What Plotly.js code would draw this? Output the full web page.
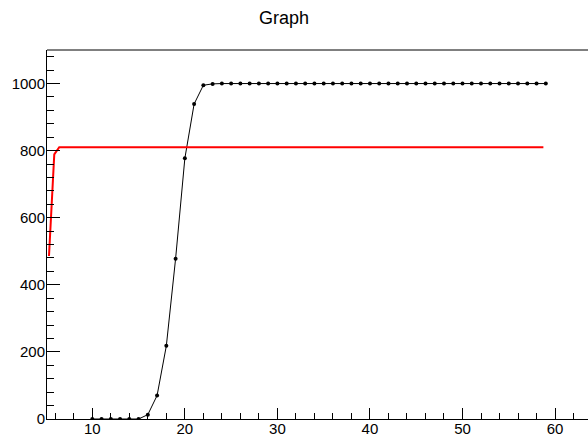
<!DOCTYPE html>
<html>
<head>
<meta charset="utf-8">
<script src="https://cdn.plot.ly/plotly-3.0.1.min.js"></script>
<style>html,body{margin:0;padding:0;background:#fff;}#chart{width:588px;height:436px;}</style>
</head>
<body>
<div id="chart"></div>
<script>
// Graph points (black)
var graphX = [10,11,12,13,14,15,16,17,18,19,20,21,22,23,24,25,26,27,28,29,30,31,32,33,34,35,36,37,38,39,40,41,42,43,44,45,46,47,48,49,50,51,52,53,54,55,56,57,58,59];
var graphY = [0,0,0,0,0,0,13,70,218,478,777,939,995,999,1000,1000,1000,1000,1000,1000,1000,1000,1000,1000,1000,1000,1000,1000,1000,1000,1000,1000,1000,1000,1000,1000,1000,1000,1000,1000,1000,1000,1000,1000,1000,1000,1000,1000,1000,1000];
// Fitted function (red)
var fitX = [5.32, 5.89, 6.43, 58.74];
var fitY = [486, 789, 810, 810];

var FONT = "Liberation Sans, Arial, Helvetica, sans-serif";

var traces = [
  {x: graphX, y: graphY, type: 'scatter', mode: 'lines+markers',
   line: {color: '#000000', width: 1}, marker: {color: '#000000', size: 4}, hoverinfo: 'skip'},
  {x: fitX, y: fitY, type: 'scatter', mode: 'lines',
   line: {color: '#ff0000', width: 2}, hoverinfo: 'skip'}
];

var layout = {
  width: 588, height: 436,
  margin: {l: 47, r: 0, t: 50, b: 17, pad: 0},
  paper_bgcolor: '#ffffff', plot_bgcolor: '#ffffff',
  showlegend: false,
  title: {text: 'Graph', font: {family: FONT, size: 18, color: '#000'}, x: 284/588, xanchor: 'center', y: 1 - 18/436, yanchor: 'middle'},
  xaxis: {
    range: [5.105, 63.56], showgrid: false, zeroline: false,
    showline: true, linecolor: '#000', linewidth: 1,
    ticks: 'inside', ticklen: 11, tickcolor: '#000', tickwidth: 1,
    tick0: 0, dtick: 10, ticklabelstandoff: -4,
    minor: {dtick: 2, tick0: 0, ticks: 'inside', ticklen: 6, tickcolor: '#000', tickwidth: 1},
    tickfont: {family: FONT, size: 15, color: '#000'}
  },
  yaxis: {
    range: [0, 1100], showgrid: false, zeroline: false,
    showline: true, linecolor: '#000', linewidth: 1,
    ticks: 'inside', ticklen: 13, tickcolor: '#000', tickwidth: 1,
    tick0: 0, dtick: 200, ticklabelstandoff: -2,
    minor: {dtick: 40, tick0: 0, ticks: 'inside', ticklen: 7, tickcolor: '#000', tickwidth: 1},
    tickfont: {family: FONT, size: 15, color: '#000'}
  },
  shapes: [
    {type: 'line', xref: 'paper', yref: 'paper', x0: 0, x1: 1, y0: 1, y1: 1, line: {color: '#000', width: 1}, layer: 'above'}
  ]
};

Plotly.newPlot('chart', traces, layout, {displayModeBar: false, staticPlot: true});
</script>
</body>
</html>
